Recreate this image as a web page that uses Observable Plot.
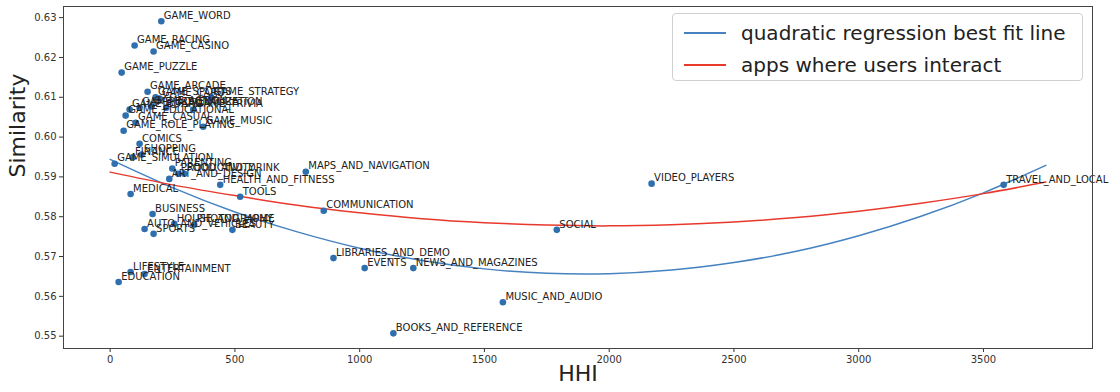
<!DOCTYPE html>
<html>
<head>
<meta charset="utf-8">
<script src="https://cdn.jsdelivr.net/npm/d3@7"></script>
<script src="https://cdn.jsdelivr.net/npm/@observablehq/plot@0.6"></script>
<style>
  html, body { margin: 0; padding: 0; background: #fff; }
  #wrap { position: relative; width: 1120px; height: 392px; font-family: "DejaVu Sans", sans-serif; }
  #legend {
    position: absolute; left: 672px; top: 13px; width: 411px; height: 68px;
    border: 1px solid #d0d0d0; border-radius: 4px; background: rgba(255,255,255,0.85);
    font-size: 20px; color: #222; box-sizing: border-box;
  }
  .entry { position: absolute; left: 11px; height: 24px; display: flex; align-items: center; white-space: nowrap; }
  .swatch { display: inline-block; width: 42px; height: 2px; margin-right: 15px; }
</style>
</head>
<body>
<div id="wrap">
  <div id="chart"></div>
  <div id="legend">
    <div class="entry" style="top:7px"><span class="swatch" style="background:#4682c0"></span>quadratic regression best fit line</div>
    <div class="entry" style="top:39px"><span class="swatch" style="background:#e8392c"></span>apps where users interact</div>
  </div>
</div>
<script>
// App categories: market concentration (HHI) vs. similarity
const categories = [
  "GAME_WORD", "GAME_RACING", "GAME_CASINO", "GAME_PUZZLE", "GAME_ARCADE",
  "GAME_SPORTS", "GAME_CARD", "GAME_STRATEGY", "GAME_TRIVIA", "PERSONALIZATION",
  "GAME_ACTION", "GAME_ADVENTURE", "GAME_BOARD", "GAME_EDUCATIONAL", "GAME_CASUAL",
  "GAME_ROLE_PLAYING", "GAME_MUSIC", "COMICS", "SHOPPING", "FINANCE",
  "GAME_SIMULATION", "PARENTING", "PRODUCTIVITY", "FOOD_AND_DRINK", "ART_AND_DESIGN",
  "HEALTH_AND_FITNESS", "TOOLS", "MAPS_AND_NAVIGATION", "COMMUNICATION", "MEDICAL",
  "BUSINESS", "AUTO_AND_VEHICLES", "SPORTS", "HOUSE_AND_HOME", "PHOTOGRAPHY",
  "BEAUTY", "LIFESTYLE", "ENTERTAINMENT", "EDUCATION", "LIBRARIES_AND_DEMO",
  "EVENTS", "NEWS_AND_MAGAZINES", "MUSIC_AND_AUDIO", "BOOKS_AND_REFERENCE", "SOCIAL",
  "VIDEO_PLAYERS", "TRAVEL_AND_LOCAL"
];
const hhi = [
  205, 98, 174, 46, 150,
  182, 198, 405, 333, 225,
  166, 118, 78, 62, 102,
  54, 373, 118, 126, 90,
  18, 249, 273, 297, 237,
  441, 521, 784, 856, 82,
  170, 138, 174, 257, 337,
  490, 82, 138, 34, 895,
  1020, 1215, 1574, 1135, 1790,
  2170, 3581
];
const similarity = [
  0.6291, 0.6230, 0.6215, 0.6162, 0.6114,
  0.6100, 0.6097, 0.6099, 0.6069, 0.6074,
  0.6077, 0.6074, 0.6069, 0.6054, 0.6036,
  0.6016, 0.6026, 0.5983, 0.5956, 0.5949,
  0.5933, 0.5921, 0.5908, 0.5908, 0.5895,
  0.5880, 0.5850, 0.5913, 0.5815, 0.5857,
  0.5807, 0.5769, 0.5757, 0.5782, 0.5780,
  0.5767, 0.5661, 0.5656, 0.5636, 0.5696,
  0.5671, 0.5671, 0.5585, 0.5507, 0.5767,
  0.5883, 0.5880
];

// Fitted curves, sampled along HHI
const curveHHI = [0, 250, 500, 750, 1000, 1250, 1500, 1750, 2000, 2250, 2500, 2750, 3000, 3250, 3500, 3750];
const quadFit = [0.5944, 0.5873, 0.5812, 0.5762, 0.5721, 0.5690, 0.5669, 0.5658, 0.5657, 0.5666, 0.5685, 0.5713, 0.5752, 0.5801, 0.5860, 0.5929];
const interactFit = [0.5912, 0.5880, 0.5853, 0.5829, 0.5810, 0.5795, 0.5785, 0.5779, 0.5777, 0.5780, 0.5787, 0.5798, 0.5814, 0.5834, 0.5858, 0.5887];

const xTicks = [0, 500, 1000, 1500, 2000, 2500, 3000, 3500];
const yTicks = [0.55, 0.56, 0.57, 0.58, 0.59, 0.60, 0.61, 0.62, 0.63];

const points = categories.map((name, i) => ({name, hhi: hhi[i], sim: similarity[i]}));
const quadRows = curveHHI.map((h, i) => ({hhi: h, sim: quadFit[i]}));
const interactRows = curveHHI.map((h, i) => ({hhi: h, sim: interactFit[i]}));

const chart = Plot.plot({
  width: 1120,
  height: 392,
  marginLeft: 63,
  marginRight: 28,
  marginTop: 6,
  marginBottom: 44,
  style: {fontFamily: "DejaVu Sans, sans-serif", fontSize: "10px", color: "#333", background: "#fff"},
  x: {domain: [-187, 3937], label: null},
  y: {domain: [0.5469, 0.6328], label: null},
  marks: [
    Plot.axisX({ticks: xTicks, tickFormat: d3.format("d"), tickSize: 4, tickPadding: 3, label: null, fontSize: 10}),
    Plot.axisY({ticks: yTicks, tickFormat: d3.format(".2f"), tickSize: 4, tickPadding: 3, label: null, fontSize: 10}),
    Plot.line(quadRows, {x: "hhi", y: "sim", stroke: "#4682c0", strokeWidth: 1.5, curve: "natural"}),
    Plot.line(interactRows, {x: "hhi", y: "sim", stroke: "#e8392c", strokeWidth: 1.5, curve: "natural"}),
    Plot.dot(points, {x: "hhi", y: "sim", r: 3.3, fill: "#2f6fae", stroke: "none"}),
    Plot.text(points, {x: "hhi", y: "sim", text: "name", textAnchor: "start", dx: 2.5, dy: -5.5, fontSize: 10, fill: "#222"}),
    Plot.text(["Similarity"], {frameAnchor: "left", text: d => d, rotate: -90, dx: -46, fontSize: 22, fill: "#222"}),
    Plot.text(["HHI"], {frameAnchor: "bottom", text: d => d, dy: 32, fontSize: 22, fill: "#222"}),
    Plot.frame({stroke: "#444", strokeWidth: 1})
  ]
});
document.getElementById("chart").appendChild(chart);
</script>
</body>
</html>
